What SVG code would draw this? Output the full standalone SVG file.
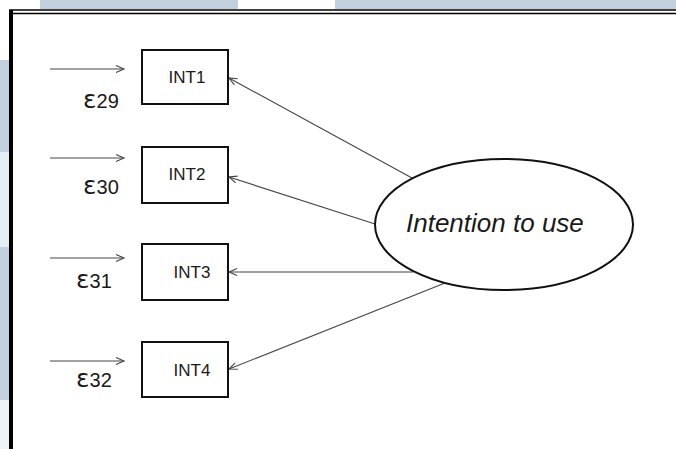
<svg xmlns="http://www.w3.org/2000/svg" width="676" height="449" viewBox="0 0 676 449">
  <style>
    .box { fill: #ffffff; stroke: #111111; stroke-width: 2; }
    .lbl { font-family: "Liberation Sans", Arial, sans-serif; font-size: 17px; fill: #1a1a1a; }
    .err { font-family: "Liberation Sans", Arial, sans-serif; font-size: 20px; fill: #1a1a1a; }
    .eps { font-family: "DejaVu Sans", "Liberation Sans", sans-serif; font-size: 25px; }
    .conn { stroke: #444444; stroke-width: 1.1; fill: none; marker-end: url(#open); }
    .bg { fill: #c2d0dd; }
  </style>
  <defs>
    <marker id="open" markerUnits="userSpaceOnUse" markerWidth="12" markerHeight="10" refX="9" refY="4" orient="auto">
      <path d="M1,0.5 L9,4 L1,7.5" fill="none" stroke="#444444" stroke-width="1.1"/>
    </marker>
  </defs>
  <rect x="0" y="0" width="676" height="449" fill="#ffffff"/>
  <g id="background">
    <rect class="bg" x="40" y="0" width="198" height="9"/>
    <rect class="bg" x="335" y="0" width="341" height="9"/>
    <rect class="bg" x="0" y="60" width="9" height="92"/>
    <rect x="0" y="152" width="9" height="95" fill="#e6eef5"/>
    <rect class="bg" x="0" y="247" width="9" height="153"/>
    <rect x="0" y="400" width="9" height="49" fill="#eef3f7"/>
  </g>
  <g id="frame">
    <line x1="11" y1="10" x2="11" y2="449" stroke="#000000" stroke-width="4"/>
    <line x1="9" y1="10" x2="676" y2="10" stroke="#000000" stroke-width="1.6"/>
    <line x1="9" y1="13.5" x2="676" y2="13.5" stroke="#000000" stroke-width="1.6"/>
  </g>
  <g id="connectors">
    <line class="conn" x1="50" y1="69" x2="124" y2="69"/>
    <line class="conn" x1="50" y1="158" x2="124" y2="158"/>
    <line class="conn" x1="50" y1="258" x2="124" y2="258"/>
    <line class="conn" x1="50" y1="361" x2="124" y2="361"/>
    <line class="conn" x1="412" y1="178" x2="229" y2="78"/>
    <line class="conn" x1="375" y1="224" x2="229" y2="177"/>
    <line class="conn" x1="413" y1="272" x2="229" y2="272"/>
    <line class="conn" x1="445" y1="283" x2="229" y2="369"/>
  </g>
  <g id="e29"><text class="err" x="83" y="108"><tspan class="eps">ε</tspan>29</text></g>
  <g id="e30"><text class="err" x="83" y="194"><tspan class="eps">ε</tspan>30</text></g>
  <g id="e31"><text class="err" x="76" y="288"><tspan class="eps">ε</tspan>31</text></g>
  <g id="e32"><text class="err" x="76" y="387"><tspan class="eps">ε</tspan>32</text></g>
  <g id="INT1">
    <rect class="box" x="142" y="50" width="86" height="54"/>
    <text class="lbl" x="187" y="83" text-anchor="middle">INT1</text>
  </g>
  <g id="INT2">
    <rect class="box" x="142" y="147" width="86" height="56"/>
    <text class="lbl" x="187" y="180" text-anchor="middle">INT2</text>
  </g>
  <g id="INT3">
    <rect class="box" x="142" y="244" width="86" height="56"/>
    <text class="lbl" x="192" y="278" text-anchor="middle">INT3</text>
  </g>
  <g id="INT4">
    <rect class="box" x="142" y="342" width="86" height="55"/>
    <text class="lbl" x="192" y="376" text-anchor="middle">INT4</text>
  </g>
  <g id="IntentionToUse">
    <ellipse cx="504" cy="224.5" rx="129" ry="65.5" fill="#ffffff" stroke="#111111" stroke-width="2"/>
    <text x="406" y="232" font-family="Liberation Sans, Arial, sans-serif" font-size="26" font-style="italic" fill="#1a1a1a">Intention to use</text>
  </g>
</svg>
